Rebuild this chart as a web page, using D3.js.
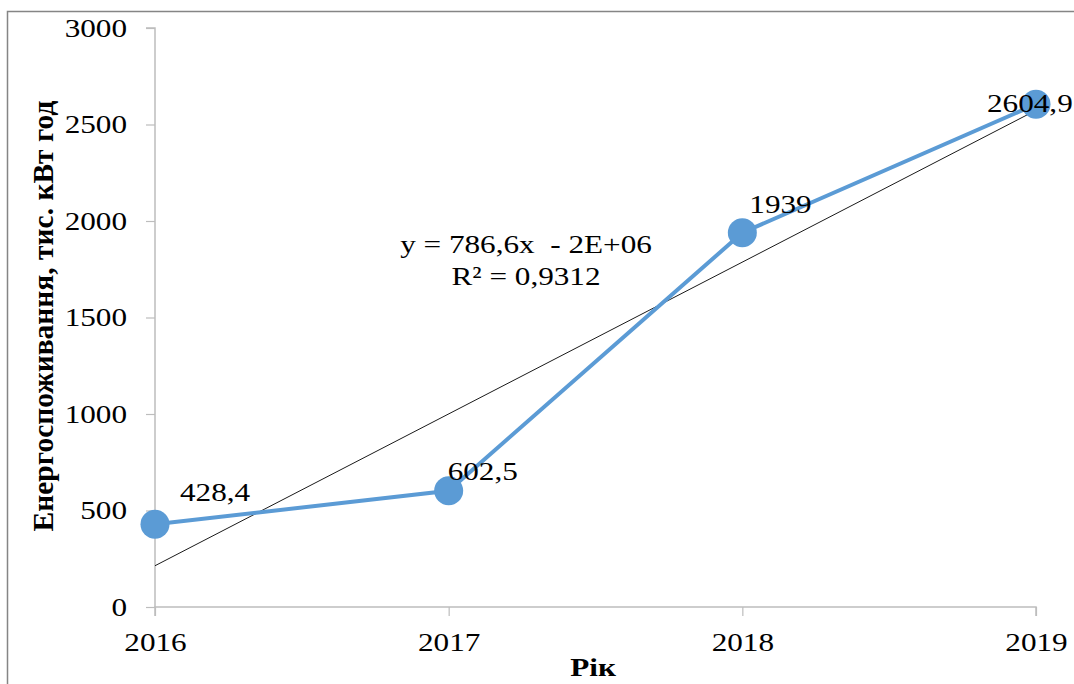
<!DOCTYPE html>
<html><head><meta charset="utf-8">
<script src="https://cdn.jsdelivr.net/npm/d3@7"></script>
<style>
html,body{margin:0;padding:0;background:#fff;}
</style></head>
<body>
<script>
const years = [2016, 2017, 2018, 2019];
const values = [428.4, 602.5, 1939, 2604.9];
const valueLabels = ["428,4", "602,5", "1939", "2604,9"];
const yTicks = [0, 500, 1000, 1500, 2000, 2500, 3000];
const equationText = "y = 786,6x  - 2E+06";
const r2Text = "R² = 0,9312";
const yTitle = "Енергоспоживання, тис. кВт год";
const xTitle = "Рік";

const FONT = "'Liberation Serif', Tinos, 'Times New Roman', 'DejaVu Serif', serif";
const SX = 1.2; // horizontal stretch of the reference text
const W = 1074, H = 684;
const svg = d3.select("body").append("svg").attr("width", W).attr("height", H)
  .style("font-family", FONT);

svg.append("rect").attr("x", 7.5).attr("y", 11.5).attr("width", W + 10).attr("height", H + 10)
  .attr("fill", "#fff").attr("stroke", "#858585").attr("stroke-width", 1.5);

const x = d3.scaleLinear().domain([2016, 2019]).range([155, 1036]);
const y = d3.scaleLinear().domain([0, 3000]).range([607, 28]);

const yAxis = svg.append("g").attr("transform", `translate(${x(2016)},0)`)
  .call(d3.axisLeft(y).tickValues(yTicks).tickSize(9).tickPadding(19).tickFormat(d3.format("d")));
const xAxis = svg.append("g").attr("transform", `translate(0,${y(0)})`)
  .call(d3.axisBottom(x).tickValues(years).tickSize(9).tickPadding(17).tickFormat(d3.format("d")));
[yAxis, xAxis].forEach(g => {
  g.attr("font-family", null).attr("font-size", null);
  g.select(".domain").attr("stroke", "#BDBDBD").attr("stroke-width", 1.5);
  g.selectAll(".tick line").attr("stroke", "#BDBDBD").attr("stroke-width", 1.2);
  g.selectAll(".tick text").style("font-family", FONT).style("font-size", "26px").attr("fill", "#000")
    .attr("transform", `scale(${SX},1)`);
});
yAxis.selectAll(".tick text").attr("x", -28 / SX);
yAxis.select(".domain").attr("d", `M-9,${y(3000)}H0V${y(0)}`);
xAxis.select(".domain").attr("d", `M${x(2016)},9V0H${x(2019)}V9`);

// Trendline (least squares)
const mx = d3.mean(years), my = d3.mean(values);
const slope = d3.sum(years.map((v, i) => (v - mx) * (values[i] - my))) / d3.sum(years.map(v => (v - mx) ** 2));
const intercept = my - slope * mx;
svg.append("line")
  .attr("x1", x(2016)).attr("y1", y(slope * 2016 + intercept))
  .attr("x2", x(2019)).attr("y2", y(slope * 2019 + intercept))
  .attr("stroke", "#1a1a1a").attr("stroke-width", 1);

const data = years.map((yr, i) => ({yr, v: values[i], lab: valueLabels[i]}));
svg.append("path").datum(data)
  .attr("d", d3.line().x(d => x(d.yr)).y(d => y(d.v)))
  .attr("fill", "none").attr("stroke", "#5B9BD5").attr("stroke-width", 4);
svg.selectAll("circle.pt").data(data).enter().append("circle")
  .attr("cx", d => x(d.yr)).attr("cy", d => y(d.v)).attr("r", 14.5).attr("fill", "#5B9BD5");

function stretchedText(px, py, str, anchor, weight) {
  return svg.append("text").attr("transform", `translate(${px},${py}) scale(${SX},1)`)
    .attr("text-anchor", anchor || "start").attr("font-weight", weight || "normal")
    .style("font-size", "26px").style("white-space", "pre").text(str);
}

const labelOffsets = [[25, -23], [-1, -11], [7, -20], [-49, 8]];
data.forEach((d, i) => stretchedText(x(d.yr) + labelOffsets[i][0], y(d.v) + labelOffsets[i][1], d.lab));

stretchedText(526, 253, equationText, "middle");
stretchedText(526, 285, r2Text, "middle");
stretchedText(593, 676, xTitle, "middle", "bold");

svg.append("text").attr("transform", `translate(53,316) rotate(-90)`)
  .attr("text-anchor", "middle").style("font-size", "29.5px").attr("font-weight", "bold").text(yTitle);
</script>
</body></html>
